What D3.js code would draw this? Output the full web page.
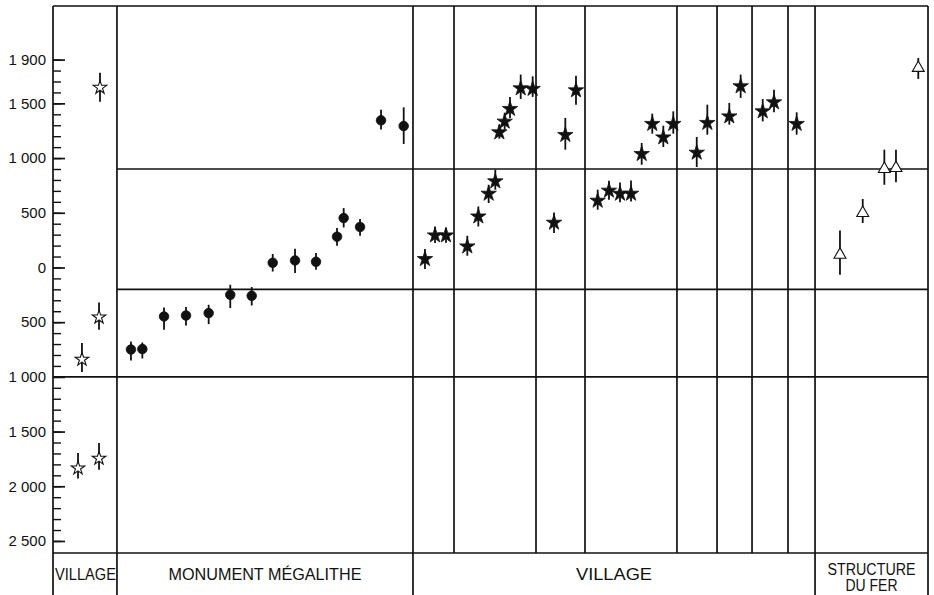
<!DOCTYPE html>
<html>
<head>
<meta charset="utf-8">
<script src="https://cdn.jsdelivr.net/npm/d3@7"></script>
<style>
  body { margin: 0; background: #fff; }
  svg { display: block; font-family: "Liberation Sans", Arial, sans-serif; }
</style>
</head>
<body>
<div id="chart"></div>
<script>
// dates: AD positive, BC negative; x = position along the sequence (0-100)
const openStars = [
  { x: 5.37, v: 1645, lo: 1515, hi: 1780 },
  { x: 5.26, v: -455, lo: -570, hi: -320 },
  { x: 3.31, v: -840, lo: -955, hi: -690 },
  { x: 2.86, v: -1835, lo: -1930, hi: -1695 },
  { x: 5.26, v: -1745, lo: -1850, hi: -1605 }
];
const circles = [
  { x: 8.91, v: -750, lo: -850, hi: -677 },
  { x: 10.21, v: -746, lo: -832, hi: -686 },
  { x: 12.69, v: -448, lo: -570, hi: -366 },
  { x: 15.2, v: -439, lo: -531, hi: -362 },
  { x: 17.79, v: -417, lo: -518, hi: -341 },
  { x: 20.26, v: -250, lo: -371, hi: -158 },
  { x: 22.71, v: -259, lo: -348, hi: -179 },
  { x: 25.11, v: 43, lo: -37, hi: 123 },
  { x: 27.66, v: 64, lo: -51, hi: 171 },
  { x: 30.06, v: 52, lo: -21, hi: 132 },
  { x: 32.46, v: 281, lo: 198, hi: 360 },
  { x: 33.22, v: 452, lo: 366, hi: 543 },
  { x: 35.09, v: 370, lo: 290, hi: 443 },
  { x: 37.49, v: 1345, lo: 1260, hi: 1442 },
  { x: 40.08, v: 1293, lo: 1129, hi: 1464 }
];
const filledStars = [
  { x: 42.51, v: 77, lo: -15, hi: 168 },
  { x: 43.66, v: 293, lo: 223, hi: 375 },
  { x: 44.91, v: 293, lo: 226, hi: 363 },
  { x: 47.35, v: 192, lo: 107, hi: 290 },
  { x: 48.61, v: 466, lo: 375, hi: 558 },
  { x: 49.79, v: 674, lo: 589, hi: 756 },
  { x: 50.55, v: 787, lo: 711, hi: 894 },
  { x: 51.01, v: 1235, lo: 1177, hi: 1305 },
  { x: 51.62, v: 1333, lo: 1260, hi: 1415 },
  { x: 52.23, v: 1449, lo: 1367, hi: 1559 },
  { x: 53.45, v: 1637, lo: 1540, hi: 1763 },
  { x: 54.82, v: 1632, lo: 1559, hi: 1747 },
  { x: 57.26, v: 409, lo: 315, hi: 503 },
  { x: 58.55, v: 1211, lo: 1077, hi: 1367 },
  { x: 59.77, v: 1619, lo: 1488, hi: 1753 },
  { x: 62.25, v: 610, lo: 528, hi: 711 },
  { x: 63.54, v: 702, lo: 619, hi: 793 },
  { x: 64.8, v: 674, lo: 595, hi: 777 },
  { x: 66.06, v: 674, lo: 604, hi: 796 },
  { x: 67.28, v: 1037, lo: 939, hi: 1138 },
  { x: 68.49, v: 1312, lo: 1223, hi: 1406 },
  { x: 69.75, v: 1189, lo: 1101, hi: 1296 },
  { x: 70.89, v: 1312, lo: 1223, hi: 1427 },
  { x: 73.57, v: 1049, lo: 918, hi: 1193 },
  { x: 74.78, v: 1321, lo: 1214, hi: 1488 },
  { x: 77.29, v: 1381, lo: 1305, hi: 1504 },
  { x: 78.59, v: 1656, lo: 1550, hi: 1763 },
  { x: 81.11, v: 1427, lo: 1335, hi: 1540 },
  { x: 82.4, v: 1509, lo: 1418, hi: 1625 },
  { x: 84.99, v: 1312, lo: 1214, hi: 1418 }
];
const triangles = [
  { x: 89.94, v: 116, lo: -67, hi: 338 },
  { x: 92.54, v: 498, lo: 406, hi: 626 },
  { x: 95.01, v: 900, lo: 756, hi: 1077 },
  { x: 96.34, v: 909, lo: 778, hi: 1077 },
  { x: 98.89, v: 1824, lo: 1723, hi: 1915 }
];

// section boundaries (sequence units) and labels
const sections = [
  { from: 0, to: 7.31, label: ["VILLAGE"] },
  { from: 7.31, to: 41.14, label: ["MONUMENT MÉGALITHE"] },
  { from: 41.14, to: 87.09, label: ["VILLAGE"] },
  { from: 87.09, to: 100, label: ["STRUCTURE", "DU FER"] }
];
const subDividers = [45.83, 55.2, 60.8, 71.31, 75.89, 79.89, 84.0];
const hLines = [
  { v: 900, from: 7.31 },
  { v: -200, from: 7.31 },
  { v: -1000, from: 0 }
];
const majorTicks = [-2500, -2000, -1500, -1000, -500, 0, 500, 1000, 1500, 1900];
const minorTicks = d3.range(-2500, 1901, 100);

const width = 934, height = 595;
const svg = d3.select('#chart').append('svg')
    .attr('width', width)
    .attr('height', height);

const x = d3.scaleLinear().domain([0, 100]).range([53, 928]);
const y = d3.scaleLinear().domain([-2610, 2390]).range([553, 6]);
const yTop = y(2390), yBottom = y(-2610);

const ink = '#111';

// frame
const grid = svg.append('g').attr('stroke', ink).attr('stroke-width', 1.7).attr('fill', 'none');
grid.append('line').attr('x1', x(0)).attr('x2', x(100)).attr('y1', yTop).attr('y2', yTop);
grid.append('line').attr('x1', x(0)).attr('x2', x(100)).attr('y1', yBottom).attr('y2', yBottom);

// section borders run into the label row
const borders = [0].concat(sections.map(d => d.to));
grid.selectAll('.border').data(borders).join('line')
    .attr('class', 'border')
    .attr('x1', d => x(d)).attr('x2', d => x(d))
    .attr('y1', yTop).attr('y2', height);

grid.selectAll('.sub').data(subDividers).join('line')
    .attr('class', 'sub')
    .attr('x1', d => x(d)).attr('x2', d => x(d))
    .attr('y1', yTop).attr('y2', yBottom);

grid.selectAll('.hl').data(hLines).join('line')
    .attr('class', 'hl')
    .attr('x1', d => x(d.from)).attr('x2', x(100))
    .attr('y1', d => y(d.v)).attr('y2', d => y(d.v));

// y axis: ticks point inward, labels outside
const fmt = v => {
  const a = Math.abs(v);
  return a >= 1000 ? Math.floor(a / 1000) + ' ' + d3.format('03d')(a % 1000) : String(a);
};
svg.append('g')
    .attr('transform', `translate(${x(0)},0)`)
    .call(d3.axisLeft(y).tickValues(minorTicks).tickSize(-8).tickFormat(''))
    .call(g => g.select('.domain').remove())
    .call(g => g.selectAll('line').attr('stroke', ink).attr('stroke-width', 1.4));
svg.append('g')
    .attr('transform', `translate(${x(0)},0)`)
    .call(d3.axisLeft(y).tickValues(majorTicks).tickSize(-12).tickPadding(7).tickFormat(fmt))
    .call(g => g.select('.domain').remove())
    .call(g => g.selectAll('line').attr('stroke', ink).attr('stroke-width', 1.7))
    .call(g => g.selectAll('text').attr('fill', ink).style('font-size', '15px')
        .style('font-family', '"Liberation Sans", Arial, sans-serif'));

// error bars + symbols
const drawSeries = (data, symbol, size, fill) => {
  const g = svg.append('g');
  g.selectAll('line').data(data).join('line')
      .attr('x1', d => x(d.x)).attr('x2', d => x(d.x))
      .attr('y1', d => y(d.lo)).attr('y2', d => y(d.hi))
      .attr('stroke', ink).attr('stroke-width', 1.8);
  g.selectAll('path').data(data).join('path')
      .attr('transform', d => `translate(${x(d.x)},${y(d.v)})`)
      .attr('d', d3.symbol(symbol, size))
      .attr('fill', fill)
      .attr('stroke', ink)
      .attr('stroke-width', fill === '#fff' ? 1.1 : 0.8)
      .attr('stroke-linejoin', 'miter');
};
drawSeries(openStars, d3.symbolStar, 56, '#fff');
drawSeries(circles, d3.symbolCircle, 72, ink);
drawSeries(filledStars, d3.symbolStar, 74, ink);
drawSeries(triangles, d3.symbolTriangle, 62, '#fff');

// label row
const labelG = svg.append('g').attr('fill', ink).style('font-size', '16px');
const widths = [61, 193, 76, 88];
sections.forEach((s, i) => {
  const lines = s.label;
  const t = labelG.append('text')
      .attr('text-anchor', i === 0 ? 'start' : 'middle');
  lines.forEach((ln, j) => {
    t.append('tspan')
        .attr('x', i === 0 ? x(s.from) + 2 : (x(s.from) + x(s.to)) / 2)
        .attr('y', lines.length === 1 ? 580 : 575 + j * 16)
        .attr('textLength', j === 0 ? widths[i] : 52)
        .attr('lengthAdjust', 'spacingAndGlyphs')
        .text(ln);
  });
});
</script>
</body>
</html>
